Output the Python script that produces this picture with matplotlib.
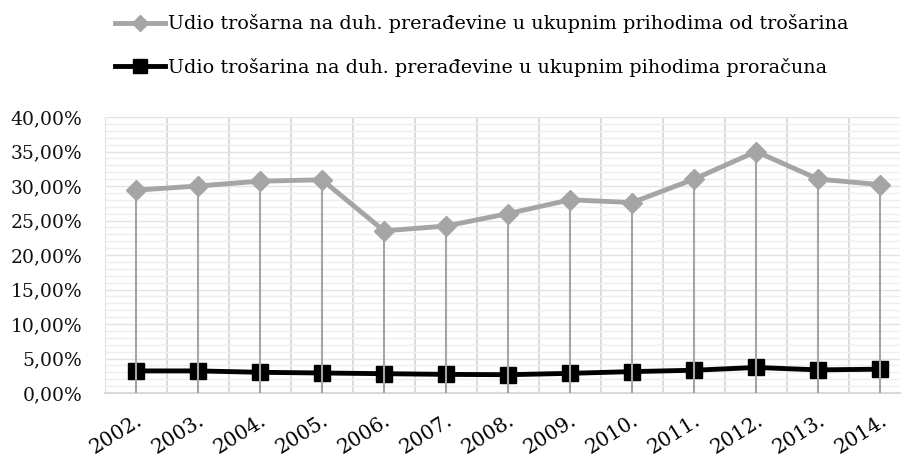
import matplotlib
matplotlib.use("Agg")
import matplotlib.pyplot as plt
from matplotlib.ticker import FuncFormatter, MultipleLocator, FixedLocator
from matplotlib.lines import Line2D
import numpy as np

years = ["2002.", "2003.", "2004.", "2005.", "2006.", "2007.", "2008.",
         "2009.", "2010.", "2011.", "2012.", "2013.", "2014."]
share_excise = [29.4, 30.0, 30.7, 30.9, 23.5, 24.2, 26.0, 28.0, 27.6, 31.0, 35.0, 31.0, 30.2]
share_budget = [3.2, 3.2, 3.0, 2.9, 2.8, 2.7, 2.65, 2.85, 3.1, 3.3, 3.7, 3.35, 3.45]
label_excise = "Udio trošarna na duh. prerađevine u ukupnim prihodima od trošarina"
label_budget = "Udio trošarina na duh. prerađevine u ukupnim pihodima proračuna"

plt.rcParams['font.family'] = ['DejaVu Serif']

fig = plt.figure(figsize=(9.02, 4.65), dpi=100)
ax = fig.add_axes([105/902, 72/465, 795/902, 276/465])

x = np.arange(len(years))
grey = '#A5A5A5'

ax.set_xlim(-0.5, 12.32)
ax.set_ylim(0, 40)

# gridlines
ax.yaxis.set_major_locator(MultipleLocator(5))
ax.yaxis.set_minor_locator(MultipleLocator(1))
ax.grid(which='minor', axis='y', color='#EFEFEF', lw=1.0, zorder=0)
ax.grid(which='major', axis='y', color='#E3E3E3', lw=1.0, zorder=0)
ax.set_xticks(x)
ax.xaxis.set_minor_locator(FixedLocator(np.arange(-0.5, 13, 1.0)))
ax.grid(which='minor', axis='x', color='#D9D9D9', lw=1.3, zorder=0)
ax.tick_params(which='both', length=0)

for s in ['top', 'right']:
    ax.spines[s].set_visible(False)
ax.spines['left'].set_color('#E3E3E3')
ax.spines['bottom'].set_color('#D9D9D9')
ax.spines['bottom'].set_linewidth(1.5)

# series
ax.plot(x, share_budget, color='black', lw=3.5, marker='s', markersize=12,
        markerfacecolor='black', markeredgecolor='black', zorder=3)
ax.vlines(x, 0, share_excise, color=grey, lw=1.5, zorder=4)
ax.plot(x, share_excise, color=grey, lw=3.5, marker='D', markersize=10,
        markerfacecolor=grey, markeredgecolor=grey, zorder=5)

ax.yaxis.set_major_formatter(FuncFormatter(lambda v, p: f"{v:.2f}".replace('.', ',') + '%'))
ax.set_xticklabels(years, rotation=32, ha='right', va='top', rotation_mode='anchor',
                   fontsize=14.5)
ax.tick_params(axis='x', pad=13)
ax.tick_params(axis='y', labelsize=13.5, pad=16.5)
for t in ax.get_yticklabels():
    t.set_color('#111111')

h1 = Line2D([], [], color=grey, lw=3.5, marker='D', markersize=8)
h2 = Line2D([], [], color='black', lw=3.5, marker='s', markersize=10)
fig.legend([h1, h2], [label_excise, label_budget], loc='upper left',
           bbox_to_anchor=(98/902, 1.0 + 3/465), frameon=False, fontsize=13.8,
           handlelength=2.6, handletextpad=0.15, labelspacing=1.3)

fig.savefig("out.png", dpi=100)
